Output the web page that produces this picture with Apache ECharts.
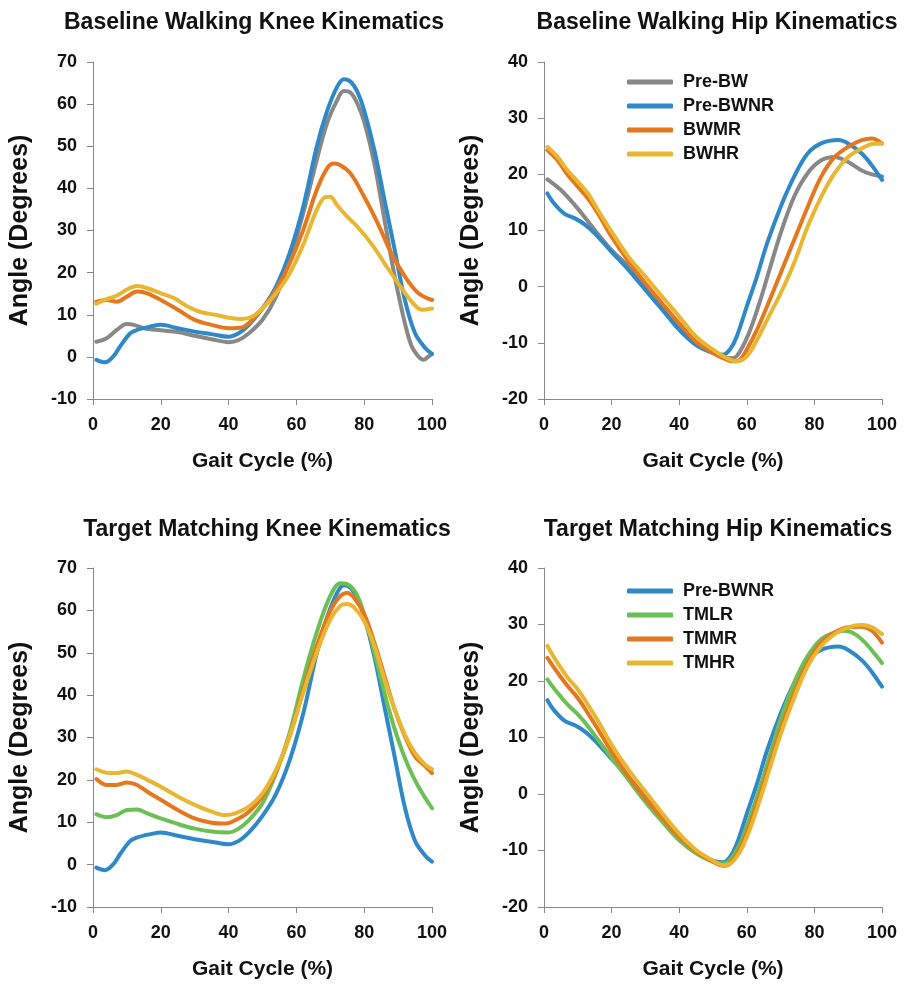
<!DOCTYPE html>
<html>
<head>
<meta charset="utf-8">
<script src="https://cdn.jsdelivr.net/npm/echarts@6/dist/echarts.min.js"></script>
<style>html,body{margin:0;padding:0;background:#fff}#c{width:911px;height:985px}</style>
</head>
<body>
<div id="c"></div>
<script>
// ---------- Data (gait cycle %, angle in degrees) ----------
const titles = ['Baseline Walking Knee Kinematics','Baseline Walking Hip Kinematics','Target Matching Knee Kinematics','Target Matching Hip Kinematics'];
const xTicks = [0,20,40,60,80,100];
const kneeTicks = [-10,0,10,20,30,40,50,60,70];
const hipTicks = [-20,-10,0,10,20,30,40];

// Knee - Pre-BWNR (shared by both knee panels)
const kneePreBWNR = [[1,-0.7],[3.5,-1.3],[6,0.1],[8,2.5],[11,5.6],[13,6.4],[17,7.2],[20,7.6],[25,6.8],[30,6.0],[35,5.4],[40,4.8],[43,5.6],[46,7.6],[50,11.5],[54,16.7],[58,24.6],[62,35.6],[66,49.9],[69,58.2],[72,64.1],[74,65.9],[76,65.3],[78,62.9],[80,58.5],[83,49.1],[86,37.2],[89,25.4],[92,13.5],[95,5.6],[98,2.1],[100,0.7]];
const kneePreBW = [[1,3.6],[4,4.4],[7,6.4],[10,7.8],[12,7.6],[15,6.8],[20,6.3],[25,5.9],[30,5.0],[35,4.2],[40,3.5],[43,4.0],[46,5.6],[50,8.8],[54,14.3],[58,23.0],[62,34.1],[66,46.7],[69,55.4],[72,60.9],[74,63.1],[76,62.7],[78,60.1],[80,55.8],[83,45.9],[86,32.5],[89,19.1],[92,8.0],[94,2.5],[96,0.1],[97.5,-0.7],[99,0.1],[100,0.7]];
const kneeBWMR = [[1,13.1],[4,13.5],[7,13.1],[10,14.3],[13,15.5],[16,15.1],[20,13.5],[25,11.2],[30,8.8],[35,7.6],[40,6.8],[44,7.0],[47,8.8],[50,11.5],[54,15.9],[58,22.2],[62,30.1],[66,39.6],[69,44.7],[71,45.9],[73,45.5],[76,43.5],[80,38.0],[84,31.7],[88,24.6],[92,19.1],[96,15.1],[100,13.5]];
const kneeBWHR = [[1,12.6],[4,13.7],[7,14.5],[10,16.0],[13,16.8],[16,16.3],[20,15.1],[24,13.9],[28,11.9],[32,10.6],[36,10.0],[40,9.3],[44,9.0],[47,9.6],[50,11.5],[54,15.1],[58,19.8],[62,26.6],[66,34.9],[68.5,37.9],[70,38.0],[72,36.0],[75,33.3],[78,30.9],[82,27.0],[86,22.2],[90,17.5],[94,13.1],[97,11.2],[100,11.5]];
const kneeTMLR = [[1,11.9],[4,11.2],[7,11.7],[10,12.9],[13,13.0],[16,12.1],[20,10.9],[25,9.6],[30,8.5],[35,7.8],[40,7.6],[43,8.5],[46,10.5],[50,14.5],[54,21.6],[58,31.1],[62,43.7],[66,54.8],[70,63.4],[73,66.4],[75,66.2],[78,63.4],[81,56.3],[84,46.9],[87,37.4],[90,29.5],[93,23.2],[96,18.4],[100,13.3]];
const kneeTMMR = [[1,20.2],[4,18.8],[7,18.8],[10,19.4],[13,18.8],[16,17.2],[20,15.3],[25,12.9],[30,10.9],[35,9.9],[39,9.7],[42,10.5],[46,12.5],[50,16.1],[54,22.0],[58,30.3],[62,41.3],[66,51.6],[70,59.9],[73,63.4],[75,64.1],[77,63.0],[80,59.1],[83,52.4],[86,44.5],[89,36.6],[92,30.3],[95,25.5],[98,23.2],[100,21.6]];
const kneeTMHR = [[1,22.5],[4,21.7],[7,21.6],[10,22.0],[13,21.2],[16,20.0],[20,18.4],[25,16.1],[30,14.1],[35,12.5],[39,11.7],[42,12.1],[46,13.7],[50,16.8],[54,22.4],[58,30.3],[62,40.5],[66,50.0],[70,57.9],[73,61.1],[75,61.5],[77,60.7],[80,57.5],[83,51.6],[86,43.7],[89,36.6],[92,30.7],[95,26.3],[98,23.6],[100,22.5]];

// Hip - Pre-BWNR (shared by both hip panels)
const hipPreBWNR = [[1,16.6],[3,14.8],[6,13.0],[9,12.2],[12,11.1],[15,9.5],[20,6.2],[25,3.0],[30,-0.6],[35,-4.1],[40,-7.7],[45,-10.4],[50,-11.8],[53,-12.1],[55,-11.2],[57,-8.9],[60,-3.5],[63,1.8],[66,7.7],[70,14.2],[74,19.6],[78,23.7],[82,25.5],[87,26.1],[90,25.5],[94,23.7],[97,21.6],[100,19.0]];
const hipPreBW = [[1,19.1],[5,17.2],[10,13.9],[15,10.1],[20,6.5],[25,3.6],[30,0.0],[35,-3.5],[40,-7.1],[45,-10.1],[50,-11.8],[54,-12.7],[56,-12.7],[58,-11.5],[61,-7.7],[64,-2.4],[67,3.6],[70,9.5],[74,16.0],[78,20.2],[82,22.5],[86,23.1],[90,22.2],[94,20.7],[97,20.0],[100,19.6]];
const hipBWMR = [[1,24.3],[4,22.5],[7,19.9],[10,17.8],[13,15.7],[16,13.0],[20,8.9],[25,4.5],[30,0.6],[35,-3.0],[40,-6.5],[45,-9.8],[50,-11.8],[54,-13.0],[56,-13.3],[58,-13.0],[60,-11.2],[63,-7.7],[66,-3.5],[70,2.4],[74,8.3],[78,14.2],[82,19.6],[86,23.1],[90,24.9],[94,26.1],[97,26.4],[100,25.5]];
const hipBWHR = [[1,24.9],[4,23.1],[7,20.7],[10,18.7],[13,16.6],[16,13.6],[20,9.8],[25,5.3],[30,1.8],[35,-1.8],[40,-5.3],[45,-8.9],[50,-11.2],[54,-12.7],[57,-13.3],[60,-12.4],[63,-9.5],[66,-5.9],[70,-1.2],[74,4.2],[78,10.7],[82,16.0],[86,20.2],[90,23.1],[94,24.6],[97,25.4],[100,25.5]];
const hipTMLR = [[1,20.3],[4,17.9],[7,15.8],[10,14.1],[13,12.0],[16,9.6],[20,6.4],[25,2.5],[30,-1.4],[35,-4.9],[40,-8.2],[45,-10.5],[50,-12.0],[53,-12.3],[55,-11.7],[58,-8.8],[61,-4.0],[64,1.3],[67,7.2],[70,13.2],[74,19.7],[78,24.4],[82,27.4],[86,28.6],[89,28.9],[92,28.3],[95,26.8],[98,24.7],[100,23.2]];
const hipTMMR = [[1,24.1],[4,21.5],[7,19.1],[10,17.0],[13,14.3],[16,11.4],[20,7.5],[25,3.1],[30,-0.8],[35,-4.3],[40,-7.6],[45,-10.2],[50,-12.0],[53,-12.7],[55,-12.3],[58,-9.6],[61,-5.2],[64,0.1],[67,5.8],[70,11.4],[74,17.9],[78,23.2],[82,26.8],[86,28.6],[90,29.5],[94,29.6],[97,28.9],[100,26.8]];
const hipTMHR = [[1,26.2],[4,23.2],[7,20.6],[10,18.5],[13,15.8],[16,12.9],[20,8.7],[25,4.3],[30,0.4],[35,-3.4],[40,-7.0],[45,-9.9],[50,-11.8],[53,-12.6],[55,-12.4],[58,-10.2],[61,-6.1],[64,-0.8],[67,4.9],[70,10.5],[74,17.0],[78,22.6],[82,26.2],[86,28.3],[90,29.5],[94,29.9],[97,29.5],[100,28.3]];

const legend1 = ['Pre-BW','Pre-BWNR','BWMR','BWHR'];
const legend2 = ['Pre-BWNR','TMLR','TMMR','TMHR'];

// ---------- Styling ----------
const FONT = 'Arial, "Liberation Sans", sans-serif';
const COLORS = {'Pre-BW':'#888888','Pre-BWNR':'#2f88c8','BWMR':'#e5781e','BWHR':'#e9b631','TMLR':'#6cbf55','TMMR':'#e5781e','TMHR':'#e9b631'};

const grids = [
  {left:93, top:62, width:339, height:337},
  {left:544, top:62, width:338, height:337},
  {left:93, top:568, width:339, height:339},
  {left:544, top:568, width:338, height:339}
];
const titleCenters = [[249,6],[712,6],[262,513],[713,513]];

function xAxis(i){
  return {type:'value', gridIndex:i, min:xTicks[0], max:xTicks[xTicks.length-1], interval:20,
    name:'Gait Cycle (%)', nameLocation:'middle', nameGap:52,
    nameTextStyle:{fontFamily:FONT, fontWeight:'bold', fontSize:21, color:'#111'},
    axisLine:{show:true, onZero:false, lineStyle:{color:'#888', width:1}},
    axisTick:{show:true, inside:false, length:6, lineStyle:{color:'#888'}},
    axisLabel:{margin:17, fontFamily:FONT, fontWeight:'bold', fontSize:18, color:'#111'},
    splitLine:{show:false}};
}
function yAxis(i, ticks){
  return {type:'value', gridIndex:i, min:ticks[0], max:ticks[ticks.length-1], interval:10,
    name:'Angle (Degrees)', nameLocation:'middle', nameGap:60,
    nameTextStyle:{fontFamily:FONT, fontWeight:'bold', fontSize:25, color:'#111'},
    axisLine:{show:true, onZero:false, lineStyle:{color:'#888', width:1}},
    axisTick:{show:true, inside:false, length:6, lineStyle:{color:'#888'}},
    axisLabel:{margin:16, fontFamily:FONT, fontWeight:'bold', fontSize:18, color:'#111'},
    splitLine:{show:false}};
}
function line(name, data, gi){
  return {type:'line', name:name, data:data, xAxisIndex:gi, yAxisIndex:gi, smooth:0.35,
    showSymbol:false, symbol:'none', lineStyle:{width:4, color:COLORS[name], cap:'round'},
    itemStyle:{color:COLORS[name]}, emphasis:{disabled:true}, animation:false};
}

const series = [
  line('Pre-BW', kneePreBW, 0), line('Pre-BWNR', kneePreBWNR, 0), line('BWMR', kneeBWMR, 0), line('BWHR', kneeBWHR, 0),
  line('Pre-BW', hipPreBW, 1), line('Pre-BWNR', hipPreBWNR, 1), line('BWMR', hipBWMR, 1), line('BWHR', hipBWHR, 1),
  line('Pre-BWNR', kneePreBWNR, 2), line('TMLR', kneeTMLR, 2), line('TMMR', kneeTMMR, 2), line('TMHR', kneeTMHR, 2),
  line('Pre-BWNR', hipPreBWNR, 3), line('TMLR', hipTMLR, 3), line('TMMR', hipTMMR, 3), line('TMHR', hipTMHR, 3)
];

function legend(names, top){
  return {orient:'vertical', left:622, top:top, itemWidth:46, itemHeight:5, itemGap:4, icon:'roundRect',
    data:names.map(n=>({name:n, icon:'roundRect', itemStyle:{color:COLORS[n]}})),
    textStyle:{fontFamily:FONT, fontWeight:'bold', fontSize:18, color:'#111', lineHeight:20, padding:[0,0,0,5]},
    selectedMode:false};
}

const chart = echarts.init(document.getElementById('c'), null, {renderer:'canvas'});
chart.setOption({
  backgroundColor:'#fff',
  animation:false,
  title: titles.map((t,i)=>({text:t, left:titleCenters[i][0], top:titleCenters[i][1], textAlign:'center',
    textStyle:{fontFamily:FONT, fontWeight:'bold', fontSize:23, color:'#111'}})),
  legend:[legend(legend1, 67), legend(legend2, 576)],
  grid: grids,
  xAxis: [0,1,2,3].map(xAxis),
  yAxis: [yAxis(0,kneeTicks), yAxis(1,hipTicks), yAxis(2,kneeTicks), yAxis(3,hipTicks)],
  series: series
});
</script>
</body>
</html>
